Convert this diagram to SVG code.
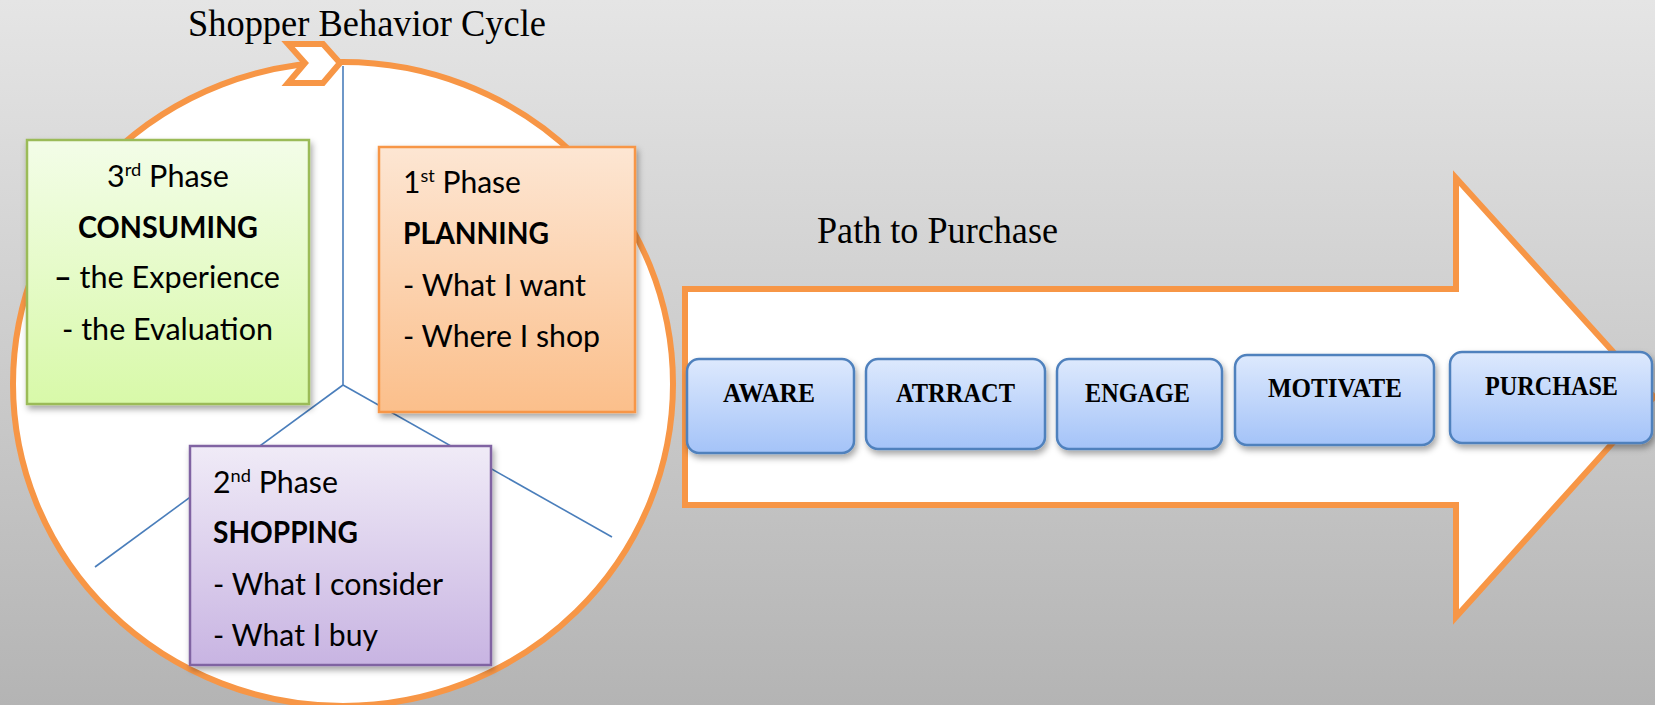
<svg xmlns="http://www.w3.org/2000/svg" width="1655" height="705" viewBox="0 0 1655 705">
  <defs>
    <linearGradient id="bg" x1="0" y1="0" x2="0" y2="1">
      <stop offset="0" stop-color="#e5e5e5"/>
      <stop offset="1" stop-color="#b4b4b4"/>
    </linearGradient>
    <linearGradient id="gGreen" x1="0" y1="0" x2="0" y2="1">
      <stop offset="0" stop-color="#f3fde8"/>
      <stop offset="1" stop-color="#d8f9a9"/>
    </linearGradient>
    <linearGradient id="gOrange" x1="0" y1="0" x2="0" y2="1">
      <stop offset="0" stop-color="#fde6d3"/>
      <stop offset="1" stop-color="#fbbf8b"/>
    </linearGradient>
    <linearGradient id="gPurple" x1="0" y1="0" x2="0" y2="1">
      <stop offset="0" stop-color="#f0ebf7"/>
      <stop offset="1" stop-color="#c8b4e2"/>
    </linearGradient>
    <linearGradient id="gBlue" x1="0" y1="0" x2="0" y2="1">
      <stop offset="0" stop-color="#dde9fd"/>
      <stop offset="1" stop-color="#a4c3f8"/>
    </linearGradient>
    <filter id="shadow" x="-10%" y="-10%" width="130%" height="130%">
      <feDropShadow dx="2" dy="4" stdDeviation="3" flood-color="#000" flood-opacity="0.35"/>
    </filter>
    <style>
      .outline { fill: #fff; stroke: #f79646; stroke-width: 6; }
      .divider { stroke: #4a7ebb; stroke-width: 1.6; fill: none; }
      .sans { font-family: Lato, "Liberation Sans", "DejaVu Sans", sans-serif; font-size: 30px; fill: #000; }
      .bold { font-weight: bold; }
      .sup { font-size: 18px; }
      .serif { font-family: "Liberation Serif", "DejaVu Serif", serif; fill: #000; }
      .heading { font-size: 38px; }
      .step { font-size: 27px; font-weight: bold; }
      .stepbox { fill: url(#gBlue); stroke: #4f81bd; stroke-width: 2.5; filter: url(#shadow); }
    </style>
  </defs>

  <!-- backdrop -->
  <rect x="0" y="0" width="1655" height="705" fill="url(#bg)"/>

  <!-- cycle ring -->
  <g id="cycle">
    <ellipse cx="343" cy="384" rx="330" ry="322" class="outline"/>
    <polygon points="288,44 323,44 340,63 323,83 288,83 305,63" class="outline" stroke-width="5" stroke-linejoin="miter"/>
  </g>

  <!-- dividers between the three phases -->
  <g id="dividers">
    <line x1="343" y1="66" x2="343" y2="385" class="divider"/>
    <line x1="343" y1="385" x2="95" y2="567" class="divider"/>
    <line x1="343" y1="385" x2="612" y2="537" class="divider"/>
  </g>

  <!-- titles -->
  <text id="title-cycle" x="188" y="36" class="serif heading" textLength="358" lengthAdjust="spacingAndGlyphs">Shopper Behavior Cycle</text>
  <text id="title-path" x="817" y="243" class="serif heading" textLength="241" lengthAdjust="spacingAndGlyphs">Path to Purchase</text>

  <!-- 3rd phase -->
  <g id="phase3">
    <rect x="27" y="140" width="282" height="264" fill="url(#gGreen)" stroke="#9bbb59" stroke-width="2.5" filter="url(#shadow)"/>
    <text x="168" y="187" class="sans" text-anchor="middle" textLength="122" lengthAdjust="spacingAndGlyphs">3<tspan class="sup" dy="-11">rd</tspan><tspan dy="11"> Phase</tspan></text>
    <text x="168" y="238" class="sans bold" text-anchor="middle" textLength="180" lengthAdjust="spacingAndGlyphs">CONSUMING</text>
    <text x="167" y="288" class="sans" text-anchor="middle" textLength="226" lengthAdjust="spacingAndGlyphs"><tspan class="bold">–</tspan> the Experience</text>
    <text x="167.5" y="340" class="sans" text-anchor="middle" textLength="211" lengthAdjust="spacingAndGlyphs">- the Evaluation</text>
  </g>

  <!-- 1st phase -->
  <g id="phase1">
    <rect x="379" y="147" width="256" height="265" fill="url(#gOrange)" stroke="#f79646" stroke-width="2.5" filter="url(#shadow)"/>
    <text x="403" y="193" class="sans" textLength="118" lengthAdjust="spacingAndGlyphs">1<tspan class="sup" dy="-11">st</tspan><tspan dy="11"> Phase</tspan></text>
    <text x="403" y="244" class="sans bold" textLength="146" lengthAdjust="spacingAndGlyphs">PLANNING</text>
    <text x="403" y="296" class="sans" textLength="183" lengthAdjust="spacingAndGlyphs">- What I want</text>
    <text x="403" y="347" class="sans" textLength="197" lengthAdjust="spacingAndGlyphs">- Where I shop</text>
  </g>

  <!-- 2nd phase -->
  <g id="phase2">
    <rect x="190" y="446" width="301" height="219" fill="url(#gPurple)" stroke="#8064a2" stroke-width="2.5" filter="url(#shadow)"/>
    <text x="213" y="493" class="sans" textLength="125" lengthAdjust="spacingAndGlyphs">2<tspan class="sup" dy="-11">nd</tspan><tspan dy="11"> Phase</tspan></text>
    <text x="213" y="543" class="sans bold" textLength="145" lengthAdjust="spacingAndGlyphs">SHOPPING</text>
    <text x="213" y="595" class="sans" textLength="230" lengthAdjust="spacingAndGlyphs">- What I consider</text>
    <text x="213" y="646" class="sans" textLength="165" lengthAdjust="spacingAndGlyphs">- What I buy</text>
  </g>

  <!-- path to purchase arrow -->
  <g id="path-arrow">
    <polygon points="685,289 1456,289 1456,178 1654,397 1456,617 1456,505 685,505" class="outline" stroke-linejoin="miter"/>
  </g>

  <g id="step-aware">
    <rect x="687" y="359" width="167" height="94" rx="12" class="stepbox"/>
    <text x="723" y="402" class="serif step" textLength="92" lengthAdjust="spacingAndGlyphs">AWARE</text>
  </g>
  <g id="step-attract">
    <rect x="866" y="359" width="179" height="90" rx="12" class="stepbox"/>
    <text x="896" y="402" class="serif step" textLength="119" lengthAdjust="spacingAndGlyphs">ATRRACT</text>
  </g>
  <g id="step-engage">
    <rect x="1057" y="359" width="165" height="90" rx="12" class="stepbox"/>
    <text x="1085" y="402" class="serif step" textLength="105" lengthAdjust="spacingAndGlyphs">ENGAGE</text>
  </g>
  <g id="step-motivate">
    <rect x="1235" y="355" width="199" height="90" rx="12" class="stepbox"/>
    <text x="1268" y="397" class="serif step" textLength="134" lengthAdjust="spacingAndGlyphs">MOTIVATE</text>
  </g>
  <g id="step-purchase">
    <rect x="1450" y="352" width="202" height="91" rx="12" class="stepbox"/>
    <text x="1485" y="395" class="serif step" textLength="133" lengthAdjust="spacingAndGlyphs">PURCHASE</text>
  </g>
</svg>
